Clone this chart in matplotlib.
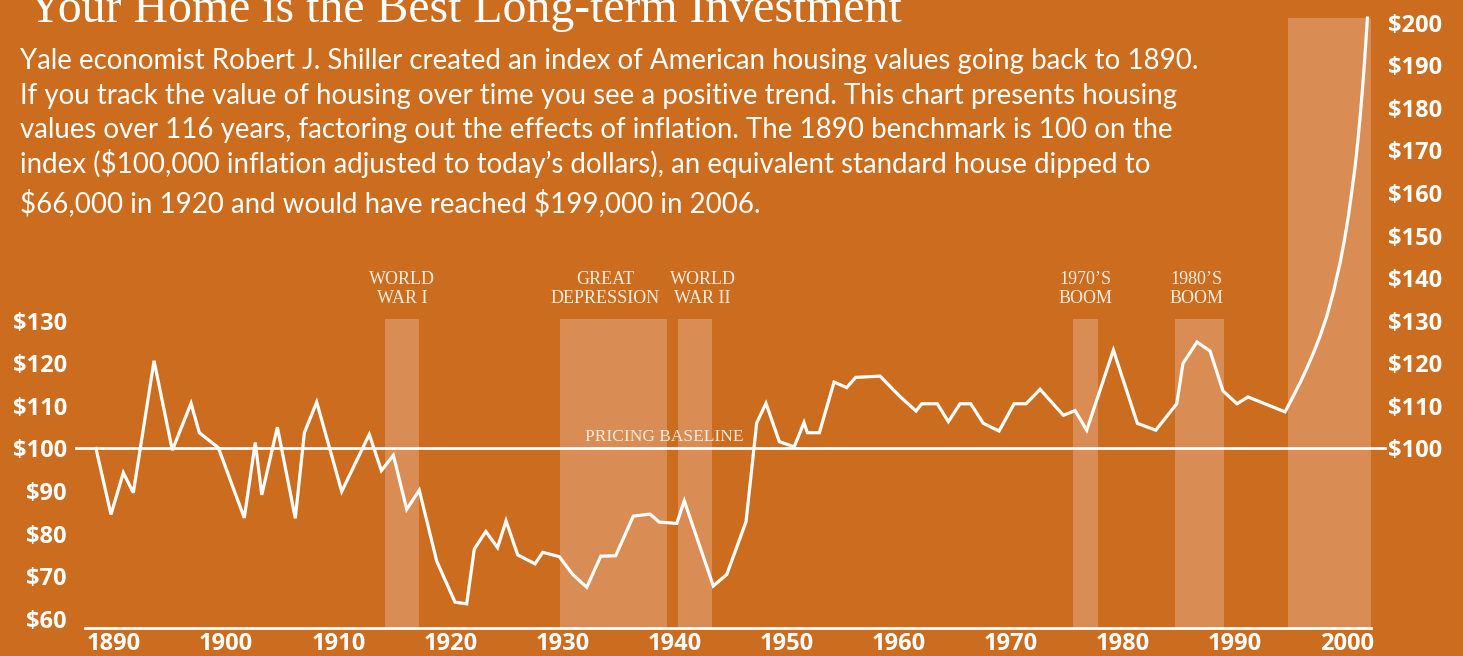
import matplotlib
matplotlib.use('Agg')
import matplotlib.pyplot as plt

plt.rcParams['text.parse_math'] = False

# ---------------- data ----------------
years = [1888.39, 1889.73, 1890.83, 1891.72, 1893.57, 1895.20, 1896.87, 1897.61,
         1899.30, 1901.62, 1902.60, 1903.18, 1904.57, 1906.17, 1906.98, 1908.08,
         1910.31, 1912.77, 1913.85, 1914.92, 1916.11, 1917.23, 1918.79, 1920.42,
         1921.46, 1922.14, 1923.17, 1924.21, 1924.97, 1926.01, 1927.56, 1928.24,
         1929.72, 1930.92, 1932.17, 1933.42, 1934.75, 1936.32, 1937.81, 1938.64,
         1940.20, 1940.87, 1943.46, 1944.66, 1946.38, 1947.33, 1948.16, 1949.35,
         1950.68, 1951.55, 1951.85, 1952.92, 1954.23, 1955.36, 1956.16, 1958.33,
         1960.12, 1961.54, 1962.05, 1963.44, 1964.43, 1965.47, 1966.42, 1967.55,
         1968.95, 1970.29, 1971.36, 1972.61, 1974.69, 1975.73, 1976.77, 1979.15,
         1981.29, 1982.93, 1984.80, 1985.36, 1986.61, 1987.77, 1988.93, 1990.18,
         1991.16, 1994.46, 1995.10, 1995.80, 1996.40, 1996.99, 1997.60, 1998.18,
         1998.80, 1999.37, 1999.75, 2000.11, 2000.40, 2000.71, 2000.95, 2001.16,
         2001.35, 2001.52, 2001.67, 2001.81]
values = [100.0, 84.5, 94.3, 89.6, 120.6, 99.6, 110.6, 103.7,
          100.2, 83.7, 101.4, 89.1, 105.0, 83.6, 103.7, 110.9,
          89.9, 103.3, 94.8, 98.4, 85.7, 90.2, 73.5, 63.9,
          63.5, 76.4, 80.5, 76.7, 83.0, 75.0, 72.9, 75.6,
          74.6, 70.4, 67.4, 74.7, 74.8, 84.1, 84.6, 82.7,
          82.4, 87.7, 67.7, 70.4, 82.8, 106.0, 110.6, 101.6,
          100.4, 106.1, 103.7, 103.7, 115.6, 114.3, 116.7, 117.0,
          112.2, 108.8, 110.5, 110.5, 106.3, 110.5, 110.5, 105.9,
          104.1, 110.5, 110.5, 113.9, 107.8, 108.9, 104.3, 123.1,
          105.9, 104.3, 110.5, 120.0, 125.0, 122.9, 113.5, 110.5,
          112.1, 108.6, 111.8, 115.4, 118.8, 122.4, 126.5, 131.0,
          137.0, 143.6, 148.8, 154.5, 160.0, 166.2, 172.0, 177.9,
          183.8, 189.7, 195.5, 201.1]

band_labels = ['WORLD\nWAR I', 'GREAT\nDEPRESSION', 'WORLD\nWAR II',
               '1970\u2019S\nBOOM', '1980\u2019S\nBOOM', '']
band_start = [1914.17, 1929.79, 1940.34, 1975.57, 1984.65, 1994.73]
band_end = [1917.21, 1939.30, 1943.31, 1977.74, 1989.02, 2002.13]
band_top = [130.3, 130.3, 130.3, 130.3, 130.3, 201.2]
label_x = [1915.7, 1933.8, 1942.5, 1976.7, 1986.6, 0]

x_ticks = [1890, 1900, 1910, 1920, 1930, 1940, 1950, 1960, 1970, 1980, 1990, 2000]
left_ticks = [60, 70, 80, 90, 100, 110, 120, 130]
right_ticks = [100, 110, 120, 130, 140, 150, 160, 170, 180, 190, 200]
baseline_value = 100

title = 'Your Home is the Best Long-term Investment'
paragraph = [
    'Yale economist Robert J. Shiller created an index of American housing values going back to 1890.',
    'If you track the value of housing over time you see a positive trend. This chart presents housing',
    'values over 116 years, factoring out the effects of inflation. The 1890 benchmark is 100 on the',
    'index ($100,000 inflation adjusted to today\u2019s dollars), an equivalent standard house dipped to',
    '$66,000 in 1920 and would have reached $199,000 in 2006.',
]

# ---------------- style ----------------
BG = '#CB6C1F'
BAND = '#D98C53'
CREAM = '#FBEDE0'
W, H = 1463, 656

fig = plt.figure(figsize=(W / 100, H / 100), dpi=100, facecolor=BG)
ax = fig.add_axes([85 / W, 28 / H, 1286 / W, 618 / H])
ax.set_facecolor(BG)
ax.set_xlim(1887.41, 2002.13)
ax.set_ylim(57.83, 203.0)
y0 = ax.get_ylim()[0]

# bands
for s, e, t, lab, lx in zip(band_start, band_end, band_top, band_labels, label_x):
    ax.bar(s, t - y0, width=e - s, bottom=y0, align='edge', color=BAND,
           linewidth=0, zorder=1)
    if lab:
        ax.text(lx, 137.5, lab, ha='center', va='center', multialignment='center',
                family='Liberation Serif', fontsize=13, color=CREAM,
                linespacing=1.2, zorder=3)

# baseline
ax.axhline(baseline_value, xmin=(76 - 85) / 1286, xmax=(1385 - 85) / 1286,
           color='white', lw=2.0, clip_on=False, zorder=2)
ax.text(1939.06, 101.8, 'PRICING BASELINE', ha='center', va='baseline',
        family='Liberation Serif', fontsize=12.5, color=CREAM, zorder=3)

# data line
ax.plot(years, values, color='white', lw=2.3, solid_joinstyle='miter',
        clip_on=False, zorder=4)

# axes styling
for side in ['top', 'left', 'right']:
    ax.spines[side].set_visible(False)
ax.spines['bottom'].set_color('white')
ax.spines['bottom'].set_linewidth(2.0)
ax.spines['bottom'].set_zorder(5)

tick_font = dict(family='Open Sans', weight='bold', size=17)
ax.set_xticks(x_ticks, labels=[str(v) for v in x_ticks], **tick_font)
ax.set_yticks(left_ticks, labels=['$' + str(v) for v in left_ticks], **tick_font)
ax.tick_params(axis='x', length=0, pad=3.0, labelcolor='white')
ax.tick_params(axis='y', length=0, pad=13.0, labelcolor='white')

ax2 = ax.twinx()
ax2.set_ylim(ax.get_ylim())
ax2.set_yticks(right_ticks, labels=['$' + str(v) for v in right_ticks], **tick_font)
ax2.tick_params(axis='y', length=0, pad=12.0, labelcolor='white')
for side in ['top', 'left', 'right', 'bottom']:
    ax2.spines[side].set_visible(False)

# ---------------- texts ----------------
t_title = fig.text(28 / W, 1 - 22 / H, title, family='Liberation Serif',
                   fontsize=30, color='white', va='baseline', ha='left')
para_y = [69, 104, 138, 173, 212]
para_texts = []
for line, py in zip(paragraph, para_y):
    para_texts.append(fig.text(20 / W, 1 - py / H, line, family='Lato',
                               fontsize=18, color='white', va='baseline', ha='left'))

fig.canvas.draw()
r = fig.canvas.get_renderer()
w = t_title.get_window_extent(r).width
t_title.set_fontsize(t_title.get_fontsize() * 872 / w)
w = para_texts[0].get_window_extent(r).width
fs = para_texts[0].get_fontsize() * 1173 / w
for t in para_texts:
    t.set_fontsize(fs)

fig.savefig('out.png', dpi=100, facecolor=BG)
